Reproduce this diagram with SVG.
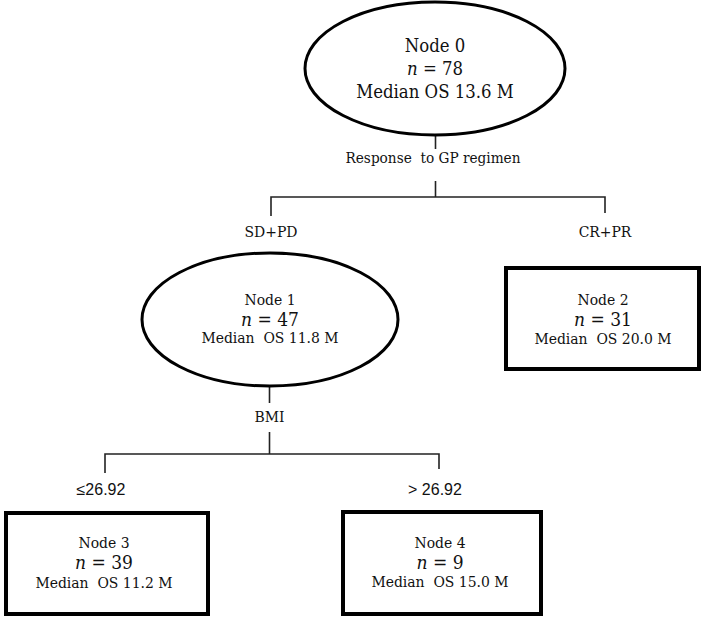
<svg xmlns="http://www.w3.org/2000/svg" width="709" height="619" viewBox="0 0 709 619">
<style>
.bg{fill:#fff}
.ell{fill:#fff;stroke:#000;stroke-width:3}
.box{fill:#fff;stroke:#000;stroke-width:4}
.ln{fill:none;stroke:#222;stroke-width:1.6}
text{font-family:"DejaVu Serif Condensed","DejaVu Serif",serif;font-stretch:condensed;fill:#111;text-anchor:middle;white-space:pre}
.big{font-size:18.4px}
.t{font-size:15.5px}
.lab{font-size:15.2px}
.n{font-size:19px}
.sans{font-family:"Liberation Sans",Arial,sans-serif;font-size:16px;font-stretch:normal}
.it{font-style:italic}
</style>
<rect class="bg" x="0" y="0" width="709" height="619"/>
<g id="connectors">
<line class="ln" x1="435.5" y1="136" x2="435.5" y2="149"/>
<line class="ln" x1="435.5" y1="181" x2="435.5" y2="197"/>
<polyline class="ln" points="271,216 271,197 605,197 605,213"/>
<text class="lab" x="433" y="163" xml:space="preserve">Response  to GP regimen</text>
<text class="t" x="271" y="237">SD+PD</text>
<text class="t" x="605" y="237">CR+PR</text>
<line class="ln" x1="269.5" y1="387" x2="269.5" y2="403"/>
<line class="ln" x1="269.5" y1="432" x2="269.5" y2="454"/>
<polyline class="ln" points="105,473 105,454 439,454 439,469"/>
<text class="t" x="269.5" y="422">BMI</text>
<text class="sans" x="101" y="495">≤26.92</text>
<text class="sans" x="435" y="495">&gt; 26.92</text>
</g>
<g id="node0">
<ellipse class="ell" cx="435" cy="68.5" rx="130" ry="66.5"/>
<text class="big" x="435" y="52">Node 0</text>
<text class="big" x="435" y="75"><tspan class="it">n</tspan> = 78</text>
<text class="big" x="435" y="98">Median OS 13.6 M</text>
</g>
<g id="node1">
<ellipse class="ell" cx="270" cy="319.5" rx="128" ry="66.5"/>
<text class="t" x="270" y="305">Node 1</text>
<text class="n" x="270" y="326"><tspan class="it">n</tspan> = 47</text>
<text class="t" x="270" y="343" xml:space="preserve">Median  OS 11.8 M</text>
</g>
<g id="node2">
<rect class="box" x="506" y="268" width="193" height="101"/>
<text class="t" x="603" y="305">Node 2</text>
<text class="n" x="603" y="326"><tspan class="it">n</tspan> = 31</text>
<text class="t" x="603" y="344" xml:space="preserve">Median  OS 20.0 M</text>
</g>
<g id="node3">
<rect class="box" x="6" y="513" width="202" height="101"/>
<text class="t" x="104" y="548">Node 3</text>
<text class="n" x="104" y="569"><tspan class="it">n</tspan> = 39</text>
<text class="t" x="104" y="588" xml:space="preserve">Median  OS 11.2 M</text>
</g>
<g id="node4">
<rect class="box" x="343" y="512" width="198" height="102"/>
<text class="t" x="440" y="548">Node 4</text>
<text class="n" x="440" y="569"><tspan class="it">n</tspan> = 9</text>
<text class="t" x="440" y="587" xml:space="preserve">Median  OS 15.0 M</text>
</g>
</svg>
